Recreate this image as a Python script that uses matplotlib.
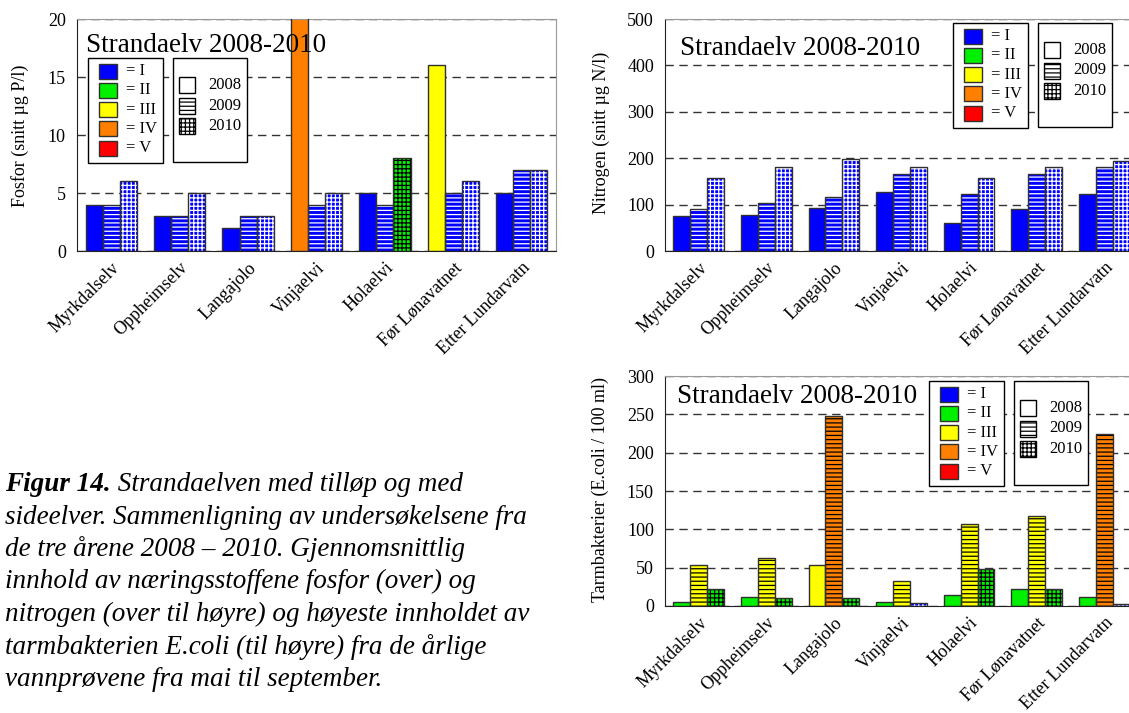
import matplotlib
matplotlib.use("Agg")
import matplotlib.pyplot as plt
from matplotlib.patches import Rectangle
import numpy as np

plt.rcParams['font.family'] = ['Liberation Serif', 'DejaVu Serif']
plt.rcParams['hatch.linewidth'] = 0.9

# Stasjoner og år
stations = ["Myrkdalselv", "Oppheimselv", "Langajolo", "Vinjaelvi",
            "Holaelvi", "Før Lønavatnet", "Etter Lundarvatn"]
years = ["2008", "2009", "2010"]
klasse_labels = ["= I", "= II", "= III", "= IV", "= V"]

# Fosfor (snitt µg P/l) og tilstandsklasse per stolpe
fosfor_2008 = [4, 3, 2, 22, 5, 16, 5]
fosfor_2009 = [4, 3, 3, 4, 4, 5, 7]
fosfor_2010 = [6, 5, 3, 5, 8, 6, 7]
fosfor_kl_2008 = [1, 1, 1, 4, 1, 3, 1]
fosfor_kl_2009 = [1, 1, 1, 1, 1, 1, 1]
fosfor_kl_2010 = [1, 1, 1, 1, 2, 1, 1]

# Nitrogen (snitt µg N/l)
nitrogen_2008 = [75, 77, 92, 128, 60, 90, 123]
nitrogen_2009 = [90, 103, 117, 165, 123, 165, 180]
nitrogen_2010 = [157, 180, 198, 180, 158, 182, 193]
nitrogen_kl_2008 = [1, 1, 1, 1, 1, 1, 1]
nitrogen_kl_2009 = [1, 1, 1, 1, 1, 1, 1]
nitrogen_kl_2010 = [1, 1, 1, 1, 1, 1, 1]

# Tarmbakterier (E.coli / 100 ml), høyeste verdi
ecoli_2008 = [5, 12, 53, 5, 14, 22, 12]
ecoli_2009 = [53, 62, 248, 33, 107, 118, 224]
ecoli_2010 = [22, 10, 10, 4, 48, 22, 3]
ecoli_kl_2008 = [2, 2, 3, 2, 2, 2, 2]
ecoli_kl_2009 = [3, 3, 4, 3, 3, 3, 4]
ecoli_kl_2010 = [2, 2, 2, 1, 2, 2, 1]

KLASSE_FARGE = {1: "#0000ff", 2: "#00f000", 3: "#ffff00", 4: "#ff8000", 5: "#ff0000"}
HATCH = ["", "----", "++++"]
BAR_W = 0.25
EDGE = "#303030"

W, H = 1129, 713
fig = plt.figure(figsize=(W / 100, H / 100), dpi=100)


def fx(x):
    return x / W


def fy(y):
    return 1 - y / H


def add_axes_px(left, top, right, bottom):
    return fig.add_axes([fx(left), fy(bottom), (right - left) / W, (bottom - top) / H])


def draw_bars(ax, series, klasser):
    x = np.arange(len(stations))
    for j, (vals, kl) in enumerate(zip(series, klasser)):
        pos = x + (j - 1) * BAR_W
        colors = [KLASSE_FARGE[k] for k in kl]
        hatch_col = ["white" if k == 1 else "black" for k in kl]
        # farge + skravur (skravurfargen følger edgecolor)
        ax.bar(pos, vals, BAR_W, color=colors, edgecolor=hatch_col,
               linewidth=0, hatch=HATCH[j], zorder=2)
        # omriss
        ax.bar(pos, vals, BAR_W, fill=False, edgecolor=EDGE, linewidth=1, zorder=3)


def style_axes(ax, ymax, step):
    ax.set_xlim(-0.5, len(stations) - 0.5)
    ax.set_ylim(0, ymax)
    ax.set_yticks(np.arange(0, ymax + 1, step))
    ax.set_xticks(np.arange(len(stations)))
    ax.set_xticklabels(stations, rotation=45, ha="right", va="top",
                       rotation_mode="anchor", fontsize=13)
    ax.tick_params(axis="y", length=0, pad=8, labelsize=13)
    ax.tick_params(axis="x", length=0, pad=6)
    ax.yaxis.grid(True, linestyle=(0, (6, 4)), color="#333333", linewidth=1)
    ax.set_axisbelow(True)
    for side in ("top", "right"):
        ax.spines[side].set_color("#999999")
    for side in ("left", "bottom"):
        ax.spines[side].set_color("#222222")


def draw_keys(cx, cy):
    # fargeklasser
    fig.add_artist(Rectangle((fx(cx), fy(cy + 105)), 75 / W, 105 / H,
                             transform=fig.transFigure, facecolor="white",
                             edgecolor="black", linewidth=1))
    for i, lab in enumerate(klasse_labels):
        yc = cy + 13 + i * 19.3
        fig.add_artist(Rectangle((fx(cx + 11), fy(yc + 7.5)), 18 / W, 15 / H,
                                 transform=fig.transFigure,
                                 facecolor=KLASSE_FARGE[i + 1],
                                 edgecolor=EDGE, linewidth=1))
        fig.text(fx(cx + 38), fy(yc), lab, fontsize=12, va="center", ha="left")
    # år
    yx = cx + 85
    fig.add_artist(Rectangle((fx(yx), fy(cy + 104)), 74 / W, 104 / H,
                             transform=fig.transFigure, facecolor="white",
                             edgecolor="black", linewidth=1))
    for i, yr in enumerate(years):
        yc = cy + 27 + i * 20.5
        fig.add_artist(Rectangle((fx(yx + 6), fy(yc + 8)), 16 / W, 16 / H,
                                 transform=fig.transFigure, facecolor="white",
                                 edgecolor="black", linewidth=1, hatch=HATCH[i]))
        fig.text(fx(yx + 35), fy(yc), yr, fontsize=12, va="center", ha="left")


# Fosfor
ax1 = add_axes_px(77, 19, 556, 251)
draw_bars(ax1, [fosfor_2008, fosfor_2009, fosfor_2010],
          [fosfor_kl_2008, fosfor_kl_2009, fosfor_kl_2010])
style_axes(ax1, 20, 5)
fig.text(fx(20), fy(136), "Fosfor (snitt µg P/l)", rotation=90,
         ha="center", va="center", fontsize=13)
fig.text(fx(86), fy(52), "Strandaelv 2008-2010", fontsize=19.5, va="baseline")
draw_keys(88, 58)

# Nitrogen
ax2 = add_axes_px(665, 19, 1138, 251)
draw_bars(ax2, [nitrogen_2008, nitrogen_2009, nitrogen_2010],
          [nitrogen_kl_2008, nitrogen_kl_2009, nitrogen_kl_2010])
style_axes(ax2, 500, 100)
fig.text(fx(601), fy(133), "Nitrogen (snitt µg N/l)", rotation=90,
         ha="center", va="center", fontsize=13)
fig.text(fx(680), fy(55), "Strandaelv 2008-2010", fontsize=19.5, va="baseline")
draw_keys(953, 23)

# E.coli
ax3 = add_axes_px(665, 376, 1138, 606)
draw_bars(ax3, [ecoli_2008, ecoli_2009, ecoli_2010],
          [ecoli_kl_2008, ecoli_kl_2009, ecoli_kl_2010])
style_axes(ax3, 300, 50)
fig.text(fx(600), fy(490), "Tarmbakterier (E.coli / 100 ml)", rotation=90,
         ha="center", va="center", fontsize=13)
fig.text(fx(677), fy(403), "Strandaelv 2008-2010", fontsize=19.5, va="baseline")
draw_keys(929, 381)

# Figurtekst
caption = [
    "sideelver. Sammenligning av undersøkelsene fra",
    "de tre årene 2008 – 2010. Gjennomsnittlig",
    "innhold av næringsstoffene fosfor (over) og",
    "nitrogen (over til høyre) og høyeste innholdet av",
    "tarmbakterien E.coli (til høyre) fra de årlige",
    "vannprøvene fra mai til september.",
]
cap_size = 19.5
base0, step = 491, 32.5
head = fig.text(fx(5), fy(base0), "Figur 14.", fontsize=cap_size,
                style="italic", weight="bold", va="baseline")
renderer = fig.canvas.get_renderer()
bb = head.get_window_extent(renderer)
fig.text(bb.x1 / W, fy(base0), " Strandaelven med tilløp og med",
         fontsize=cap_size, style="italic", va="baseline")
for i, line in enumerate(caption):
    fig.text(fx(5), fy(base0 + step * (i + 1)), line, fontsize=cap_size,
             style="italic", va="baseline")

fig.savefig("out.png", dpi=100)
